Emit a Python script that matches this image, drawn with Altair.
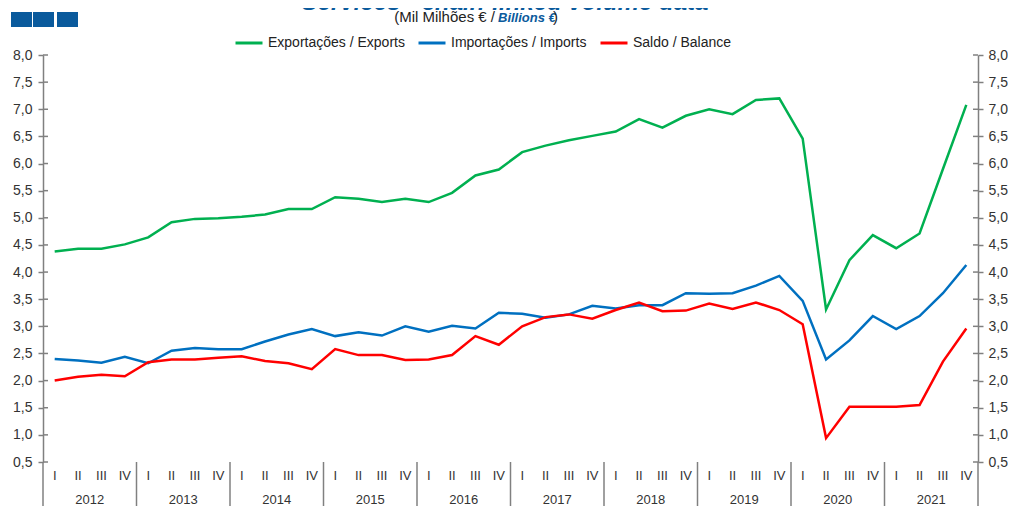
import altair as alt
import pandas as pd

years = ["2012", "2013", "2014", "2015", "2016", "2017", "2018", "2019", "2020", "2021"]
quarters = ["I", "II", "III", "IV"]

exports = [4.38, 4.43, 4.43, 4.51, 4.64, 4.92, 4.98, 4.99, 5.02, 5.06, 5.16, 5.16,
           5.38, 5.35, 5.29, 5.35, 5.29, 5.46, 5.78, 5.89, 6.21, 6.33, 6.43, 6.51,
           6.59, 6.82, 6.66, 6.88, 7.00, 6.91, 7.17, 7.20, 6.46, 3.31, 4.22, 4.68,
           4.44, 4.71, 5.90, 7.08]
imports = [2.40, 2.37, 2.33, 2.44, 2.32, 2.55, 2.60, 2.58, 2.58, 2.72, 2.85, 2.95,
           2.82, 2.89, 2.83, 3.00, 2.90, 3.01, 2.96, 3.25, 3.23, 3.16, 3.22, 3.38,
           3.33, 3.39, 3.39, 3.61, 3.60, 3.61, 3.75, 3.93, 3.47, 2.39, 2.74, 3.19,
           2.95, 3.19, 3.61, 4.13]
balance = [2.00, 2.07, 2.11, 2.08, 2.34, 2.39, 2.39, 2.42, 2.45, 2.36, 2.32, 2.21,
           2.58, 2.47, 2.47, 2.38, 2.39, 2.47, 2.82, 2.66, 3.00, 3.17, 3.22, 3.14,
           3.30, 3.44, 3.28, 3.29, 3.42, 3.32, 3.44, 3.30, 3.04, 0.94, 1.52, 1.52,
           1.52, 1.55, 2.35, 2.96]

series_names = ["Exportações / Exports", "Importações / Imports", "Saldo / Balance"]
series_colors = ["#00B050", "#0070C0", "#FF0000"]
y_ticks = [0.5 + 0.5 * k for k in range(16)]

title_text = "Services - chain-linked volume data"
sub_a = "(Mil Milhões € /"
sub_b = "Billions €"
sub_c = ")"

W, H = 935, 407
FONT = "Liberation Sans"
GREY = "#808080"
BLUE = "#0A5A9C"
TXT = "#333333"
n = len(exports)

rows = []
for name, vals in zip(series_names, [exports, imports, balance]):
    for i, v in enumerate(vals):
        rows.append({"i": i, "v": v, "s": name})
df = pd.DataFrame(rows)

q_df = pd.DataFrame({"i": list(range(n)), "q": quarters * len(years)})
yr_df = pd.DataFrame({"c": [4 * k + 1.5 for k in range(len(years))], "y": years})
yb_df = pd.DataFrame({"b": [4 * k - 0.5 for k in range(len(years) + 1)]})
yt_df = pd.DataFrame({"t": y_ticks})
dummy = pd.DataFrame({"a": [0]})

xscale = alt.Scale(domain=[-0.5, n - 0.5], nice=False, zero=False)
yscale = alt.Scale(domain=[0.5, 8.0], nice=False, zero=False)

label_expr = "replace(format(datum.value, '.1f'), '.', ',')"


def y_axis(orient, pad):
    return alt.Axis(orient=orient, values=y_ticks, labelExpr=label_expr, title=None,
                    grid=False, domainColor=GREY, domainWidth=1.5, tickColor=GREY,
                    tickWidth=1.5, tickSize=5, labelFont=FONT, labelFontSize=14,
                    labelColor=TXT, labelPadding=pad, labelFlush=False, labelBound=False)


x_axis = alt.Axis(values=[k - 0.5 for k in range(n + 1)], labels=False, title=None,
                  grid=False, tickSize=21, domainColor=GREY, domainWidth=1.5,
                  tickColor=GREY, tickWidth=1.5)

lines = alt.Chart(df).mark_line(strokeWidth=2.5).encode(
    x=alt.X("i:Q", scale=xscale, axis=x_axis),
    y=alt.Y("v:Q", scale=yscale, axis=y_axis("left", 6)),
    color=alt.Color("s:N", sort=series_names,
                    scale=alt.Scale(domain=series_names, range=series_colors),
                    legend=alt.Legend(orient="none", legendX=191, legendY=-27,
                                      direction="horizontal", title=None,
                                      symbolType="stroke", symbolStrokeWidth=3,
                                      symbolSize=729, labelFont=FONT, labelFontSize=14,
                                      labelColor="#222222", columnPadding=7,
                                      labelOffset=4)),
)

left_inner = alt.Chart(yt_df).mark_rule(color=GREY, strokeWidth=1.5).encode(
    y=alt.Y("t:Q", scale=yscale, axis=None),
    x=alt.value(0), x2=alt.value(5),
)
right_inner = alt.Chart(yt_df).mark_rule(color=GREY, strokeWidth=1.5).encode(
    y=alt.Y("t:Q", scale=yscale, axis=y_axis("right", 5)),
    x=alt.value(W - 5), x2=alt.value(W),
)

year_sep = alt.Chart(yb_df).mark_rule(color=GREY, strokeWidth=1.5).encode(
    x=alt.X("b:Q", scale=xscale, axis=None),
    y=alt.value(H), y2=alt.value(H + 60),
)
q_labels = alt.Chart(q_df).mark_text(font=FONT, fontSize=13, color=TXT,
                                     baseline="middle").encode(
    x=alt.X("i:Q", scale=xscale, axis=None),
    y=alt.value(H + 14),
    text="q:N",
)
yr_labels = alt.Chart(yr_df).mark_text(font=FONT, fontSize=13, color=TXT,
                                       baseline="middle").encode(
    x=alt.X("c:Q", scale=xscale, axis=None),
    y=alt.value(H + 38),
    text="y:N",
)

title = alt.Chart(dummy).mark_text(text=title_text, font=FONT, fontSize=24,
                                   fontWeight="bold", fontStyle="italic", color=BLUE,
                                   baseline="alphabetic", align="center").encode(
    x=alt.value(462), y=alt.value(-45))
subA = alt.Chart(dummy).mark_text(text=sub_a, font=FONT, fontSize=15, color="#222222",
                                  baseline="alphabetic", align="right").encode(
    x=alt.value(452), y=alt.value(-33))
subB = alt.Chart(dummy).mark_text(text=sub_b, font=FONT, fontSize=13, color=BLUE,
                                  fontWeight="bold", fontStyle="italic",
                                  baseline="alphabetic", align="left").encode(
    x=alt.value(455), y=alt.value(-33))
subC = alt.Chart(dummy).mark_text(text=sub_c, font=FONT, fontSize=15, color="#222222",
                                  baseline="alphabetic", align="left").encode(
    x=alt.value(510), y=alt.value(-33))

squares = []
for x0 in [-32, -10, 14]:
    squares.append(alt.Chart(dummy).mark_rect(color=BLUE).encode(
        x=alt.value(x0), x2=alt.value(x0 + 21), y=alt.value(-43), y2=alt.value(-28)))

chart = alt.layer(
    lines, left_inner, right_inner, year_sep, q_labels, yr_labels,
    title, subA, subB, subC, *squares
).resolve_scale(y="independent").properties(
    width=W, height=H,
    padding={"left": 35, "top": 47, "right": 30, "bottom": 44},
    autosize=alt.AutoSizeParams(type="none"),
).configure_view(stroke=None)

chart.save("out.html", embed_options={"renderer": "svg", "actions": False})
